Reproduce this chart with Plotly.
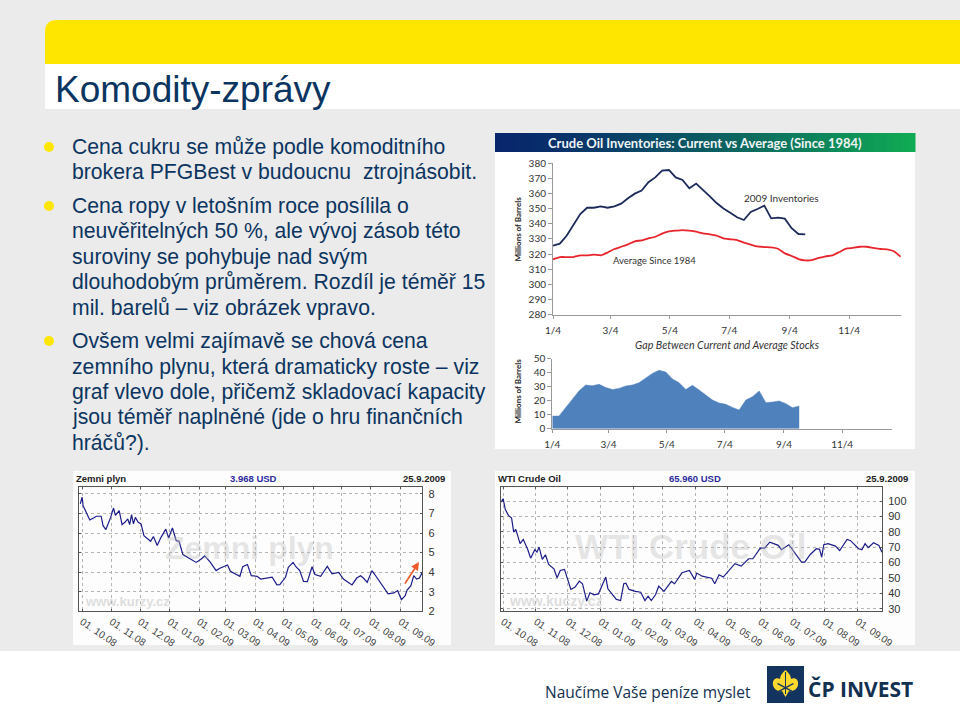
import plotly.graph_objects as go
import pandas as pd

W, H = 960, 718
NAVY = "#0b3560"
SANS = "Liberation Sans"

# --- data ---------------------------------------------------------------
inv_current = [325.5,326.8,332,339,346.4,350.5,350.5,351.4,350.5,351.4,353.2,356.7,359.8,361.8,367.3,370.5,375,375.4,370.5,368.8,363.3,366.4,362.4,358,353.6,350,347.2,344.2,342.4,347.7,349.7,351.9,343.5,344,343.3,337,333.2,333]
inv_average = [316.5,318,318,318,319.1,319.1,319.6,319.1,320.9,323.3,324.8,326.4,328.4,329,330.3,331.4,333.4,334.9,335.4,335.8,335.4,334.7,333.6,333,332.1,330.3,329.7,329.2,327.5,326.2,325,324.6,324.4,323.5,320.4,318.7,316.7,315.8,316,317.4,318.5,319.1,321.3,323.5,324,324.8,324.8,324,323.3,323.1,321.8,318.2]
inv_gap = [9,9,15,21.4,27,31.2,30.7,31.7,29.5,28,28.8,30.5,31.2,32.9,36.2,39.5,41.7,40.5,35.5,32.9,28,31,27.6,24.3,20.5,18.3,17.4,15.2,13.3,20.5,22.9,26.9,18.6,19,19.8,17.9,15,16.2]
inv_ticks = ["2009-01-04","2009-03-04","2009-05-04","2009-07-04","2009-09-04","2009-11-04"]
inv_y_ticks = list(range(280, 381, 10))
gap_y_ticks = list(range(0, 51, 10))

gas_days = [-2,0,1,4,8,12,15,20,22,25,28,30,33,35,39,42,45,48,50,52,54,56,59,62,65,69,72,75,79,83,88,91,95,99,102,106,112,115,120,125,129,135,141,145,153,156,161,166,169,174,178,184,188,194,200,205,208,214,217,222,225,229,233,237,242,245,251,258,263,270,275,284,289,293,296,300,305,308,315,322,328,332,336,340,342,346,349,352,355,358]
gas_vals = [7.49,7.83,7.4,7.06,6.67,6.77,6.86,6.86,6.38,6.18,6.55,6.8,7.28,6.9,7.15,6.43,6.55,6.72,6.43,6.94,6.47,6.8,6.55,6.47,5.87,5.68,5.58,5.82,5.36,5.78,6.2,5.75,6.26,5.61,5.58,4.9,4.73,4.63,4.5,4.66,4.83,4.5,4.08,4.2,4.37,4.05,3.94,3.79,4.28,4.39,3.82,3.79,3.65,3.7,3.74,3.35,3.36,3.74,4.25,4.5,4.28,4.08,3.53,3.52,4.28,3.88,3.79,4.3,3.91,3.99,3.65,3.35,3.7,3.82,3.7,3.48,4.08,3.88,3.4,2.89,2.94,3.06,2.6,2.8,3.09,3.31,3.82,3.65,3.7,3.99]
oil_days = [-2,0,2,5,8,10,12,16,19,23,26,30,32,34,37,40,43,48,51,54,58,64,68,72,75,79,82,86,90,97,99,107,111,114,116,119,125,130,134,137,140,144,147,152,159,162,169,176,181,183,188,197,200,204,208,219,225,232,236,243,247,252,260,263,270,277,282,285,290,296,299,301,303,307,314,318,325,328,336,339,342,345,350,355,358]
oil_vals = [99.3,101.5,94.6,90.7,88.9,79.8,81.6,72.3,75.1,69,62.9,68.4,66.8,70.1,62.1,65.1,58.8,56,50.2,54.9,55.6,42.6,44.1,48,46.3,35,40.4,39.1,39.7,50.6,43,36.1,35.4,46.3,46.7,42.6,41.3,40.8,35.4,38.2,35.4,39.1,44.7,41.3,47.8,46.3,53.4,54.9,49.1,53.2,51.2,49.9,46.3,52.1,50.6,59.3,57.7,62.5,62.5,69.4,69.4,73.3,71.2,68.4,71.6,64.7,60.3,60.3,65.1,69,68.6,63.6,71.6,72.3,70.7,67.9,75.1,74.4,69,68.4,72.3,69.7,72.9,71.2,66.8]
month_ticks = ["2008-10-01","2008-11-01","2008-12-01","2009-01-01","2009-02-01","2009-03-01","2009-04-01","2009-05-01","2009-06-01","2009-07-01","2009-08-01","2009-09-01"]
gas_y_ticks = [2,3,4,5,6,7,8]
oil_y_ticks = [30,40,50,60,70,80,90,100]

title_text = "Komodity-zprávy"
body_lines = [
    ("Cena cukru se může podle komoditního", 147),
    ("brokera PFGBest v budoucnu\u00a0 ztrojnásobit.", 172),
    ("Cena ropy v letošním roce posílila o", 206),
    ("neuvěřitelných 50 %, ale vývoj zásob této", 231),
    ("suroviny se pohybuje nad svým", 257),
    ("dlouhodobým průměrem. Rozdíl je téměř 15", 282),
    ("mil. barelů – viz obrázek vpravo.", 308),
    ("Ovšem velmi zajímavě se chová cena", 341),
    ("zemního plynu, která dramaticky roste – viz", 367),
    ("graf vlevo dole, přičemž skladovací kapacity", 392),
    ("jsou téměř naplněné (jde o hru finančních", 417),
    ("hráčů?).", 443),
]
bullet_rows = [147, 206, 341]

# --- helpers ------------------------------------------------------------
fx = lambda x: x / W
fy = lambda y: 1 - y / H
shapes, notes = [], []

def rect(x0, y0, x1, y1, color):
    shapes.append(dict(type="rect", xref="paper", yref="paper", x0=fx(x0), x1=fx(x1),
                       y0=fy(y0), y1=fy(y1), fillcolor=color, line_width=0, layer="below"))

def path(d, color, layer="above"):
    out = []
    for tok in d:
        if isinstance(tok, str):
            out.append(tok)
        else:
            out.append(f"{fx(tok[0]):.5f},{fy(tok[1]):.5f}")
    shapes.append(dict(type="path", xref="paper", yref="paper", path=" ".join(out),
                       fillcolor=color, line_width=0, layer=layer))

def text(x, y, s, size, color="#333333", anchor="left", family=SANS, angle=0, **kw):
    notes.append(dict(x=fx(x), y=fy(y), xref="paper", yref="paper", text=s, showarrow=False,
                      xanchor=anchor, yanchor="middle", textangle=angle,
                      font=dict(size=size, color=color, family=family), **kw))

def dates(base, days):
    return (pd.Timestamp(base) + pd.to_timedelta(days, unit="D")).strftime("%Y-%m-%d").tolist()

# --- slide furniture ----------------------------------------------------
rect(0, 0, W, H, "#ebebeb")
rect(0, 651, W, H, "#ffffff")
path(["M", (45, 64), "L", (45, 32), "Q", (45, 20), (57, 20), "L", (960, 20), "L", (960, 64), "Z"], "#ffe600", "below")
rect(45, 64, W, 109, "#ffffff")
rect(495, 133, 915, 449, "#ffffff")
rect(73, 471, 451, 645, "#fdfdfd")
rect(495, 471, 915, 645, "#fdfdfd")

# gradient title bar
n = 60
c0, c1 = (8, 38, 108), (16, 170, 84)
for i in range(n):
    t = (i / (n - 1)) ** 1.3
    col = "rgb(%d,%d,%d)" % tuple(round(a + (b - a) * t) for a, b in zip(c0, c1))
    rect(495 + 420 * i / n, 133, 495 + 420 * (i + 1) / n + 0.5, 152, col)

text(53, 89, title_text, 37, NAVY)
for s, y in body_lines:
    text(70, y, s, 21.2, NAVY)
for y in bullet_rows:
    shapes.append(dict(type="circle", xref="paper", yref="paper", x0=fx(44), x1=fx(54), y0=fy(y + 5), y1=fy(y - 5),
                       fillcolor="#ffe600", line_width=0, layer="below"))

# --- figure -------------------------------------------------------------
fig = go.Figure()
week0 = "2009-01-04"
wk = lambda vals: dates(week0, [7 * i for i in range(len(vals))])
LATO = "Lato"

fig.add_trace(go.Scatter(x=wk(inv_average), y=inv_average, mode="lines", line=dict(color="#e8252c", width=1.8, shape="spline", smoothing=0.4), xaxis="x", yaxis="y", showlegend=False))
fig.add_trace(go.Scatter(x=wk(inv_current), y=inv_current, mode="lines", line=dict(color="#1b2a5a", width=1.8), xaxis="x", yaxis="y", showlegend=False))
fig.add_trace(go.Scatter(x=wk(inv_gap), y=inv_gap, mode="lines", fill="tozeroy", fillcolor="#4f81bd", line=dict(color="#4f81bd", width=0.5), xaxis="x2", yaxis="y2", showlegend=False))
fig.add_trace(go.Scatter(x=dates("2008-10-01", gas_days), y=gas_vals, mode="lines", line=dict(color="#1c1c8a", width=1.2), xaxis="x3", yaxis="y3", showlegend=False))
fig.add_trace(go.Scatter(x=dates("2008-10-01", oil_days), y=oil_vals, mode="lines", line=dict(color="#1c1c8a", width=1.2), xaxis="x4", yaxis="y4", showlegend=False))

def top_x(dom, rng, anchor):
    return dict(domain=[fx(dom[0]), fx(dom[1])], range=rng, type="date", tickvals=inv_ticks, tickformat="%-m/%-d",
                anchor=anchor, showgrid=False, zeroline=False, showline=True, linecolor="#999999", ticks="outside",
                ticklen=3, tickcolor="#999999", tickfont=dict(size=10, family=LATO, color="#333333"), ticklabelstandoff=3)

def top_y(dom, rng, vals, anchor):
    return dict(domain=[fy(dom[1]), fy(dom[0])], range=rng, tickvals=vals, anchor=anchor, showgrid=False, zeroline=False,
                showline=True, linecolor="#999999", ticks="outside", ticklen=4, tickcolor="#999999",
                tickfont=dict(size=10, family=LATO, color="#333333"))

def low_x(dom, rng, anchor):
    return dict(domain=[fx(dom[0]), fx(dom[1])], range=rng, type="date", tickvals=month_ticks, tickformat="%d. %m.%y",
                tickangle=34, anchor=anchor, showgrid=True, griddash="dot", gridcolor="#b5b5b5", gridwidth=1, zeroline=False,
                showline=True, mirror="ticks", linecolor="#555555", linewidth=1, ticks="inside", ticklen=2, tickcolor="#555555",
                tickfont=dict(size=10, family=SANS, color="#444444"))

def low_y(dom, rng, vals, anchor):
    return dict(domain=[fy(dom[1]), fy(dom[0])], range=rng, tickvals=vals, side="right", anchor=anchor, showgrid=True, griddash="dot",
                gridcolor="#b5b5b5", gridwidth=1, zeroline=False, showline=True, mirror="ticks", linecolor="#555555", linewidth=1,
                ticks="inside", ticklen=2, tickcolor="#555555", ticklabelstandoff=3, tickfont=dict(size=11, family=SANS, color="#333333"))

# panel captions
text(705, 142.5, "<b>Crude Oil Inventories: Current vs Average (Since 1984)</b>", 13, "#eef4f4", "center", LATO)
text(781, 197.5, "2009 Inventories", 10, "#333333", "center", LATO)
text(654, 260, "Average Since 1984", 9.5, "#333333", "center", LATO)
text(727, 344, "<i>Gap Between Current and Average Stocks</i>", 10.7, "#333333", "center", LATO)
text(517.5, 229, "<b>Millions of Barrels</b>", 8, "#222222", "center", LATO, angle=-90)
text(517.5, 391, "<b>Millions of Barrels</b>", 8, "#222222", "center", LATO, angle=-90)

text(74, 478, "<b>Zemni plyn</b>", 9.5, "#222222")
text(253, 478, "<b>3.968 USD</b>", 9.5, "#2b2b9c", "center")
text(447, 478, "<b>25.9.2009</b>", 9.5, "#222222", "right")
text(496, 478, "<b>WTI Crude Oil</b>", 9.5, "#222222")
text(695, 478, "<b>65.960 USD</b>", 9.5, "#2b2b9c", "center")
text(910, 478, "<b>25.9.2009</b>", 9.5, "#222222", "right")

text(249, 548, "<b>Zemni plyn</b>", 32, "rgba(190,190,190,0.4)", "center")
text(690, 546, "<b>WTI Crude Oil</b>", 35, "rgba(190,190,190,0.4)", "center")
text(83, 601, "<b>www.kurzy.cz</b>", 13, "rgba(180,180,180,0.45)")
text(507, 601, "<b>www.kuczy.cz</b>", 14, "rgba(180,180,180,0.45)")

# arrow on the gas chart
notes.append(dict(x=fx(419), y=fy(562), ax=-15, ay=23, xref="paper", yref="paper", axref="pixel", ayref="pixel",
                  text="", showarrow=True, arrowhead=2, arrowsize=1, arrowwidth=1.6, arrowcolor="#ee5a2a"))

# footer and logo
text(543, 692, "Naučíme Vaše peníze myslet", 15.5, "#12304f", family="Open Sans")
text(806, 689, "<b>ČP INVEST</b>", 21, "#12304f", family="Open Sans", )
rect(767, 666, 804, 703, "#12345f")
path(["M", (785.5, 670), "C", (782, 673), (780, 676), (780, 679), "C", (776, 677), (772, 680), (773, 685),
      "C", (774, 690), (779, 692), (782, 691), "L", (785.5, 697), "L", (789, 691),
      "C", (792, 692), (797, 690), (798, 685), "C", (799, 680), (795, 677), (791, 679),
      "C", (791, 676), (789, 673), (785.5, 670), "Z"], "#ffd92e")
path(["M", (785, 672), "L", (786, 672), "L", (786, 694), "L", (785, 694), "Z"], "#12345f")
path(["M", (778, 683), "L", (793, 691), "L", (792, 692), "L", (777, 684), "Z"], "#12345f")
path(["M", (793, 683), "L", (778, 691), "L", (779, 692), "L", (794, 684), "Z"], "#12345f")

fig.update_layout(
    width=W, height=H, autosize=False, margin=dict(l=0, r=0, t=0, b=0, autoexpand=False),
    paper_bgcolor="#ebebeb", plot_bgcolor="rgba(0,0,0,0)", showlegend=False, shapes=shapes, annotations=notes,
    font=dict(family=SANS),
    xaxis=top_x((553, 900.7), ["2009-01-04", "2009-12-27"], "y"),
    yaxis=top_y((163, 314.7), [280, 380], inv_y_ticks, "x"),
    xaxis2=top_x((552.3, 891.7), ["2009-01-04", "2009-12-26"], "y2"),
    yaxis2=top_y((358.7, 428.7), [0, 50], gap_y_ticks, "x2"),
    xaxis3=low_x((79.3, 422.3), ["2008-09-28", "2009-09-24"], "y3"),
    yaxis3=low_y((487.3, 611.3), [2.0, 8.34], gas_y_ticks, "x3"),
    xaxis4=low_x((501, 882), ["2008-09-29", "2009-09-24"], "y4"),
    yaxis4=low_y((487.3, 611.3), [28.4, 108.9], oil_y_ticks, "x4"),
)
fig.write_html("out.html", config={"displayModeBar": False},
               post_script="document.body.style.margin='0';document.body.style.background='#ebebeb';")
